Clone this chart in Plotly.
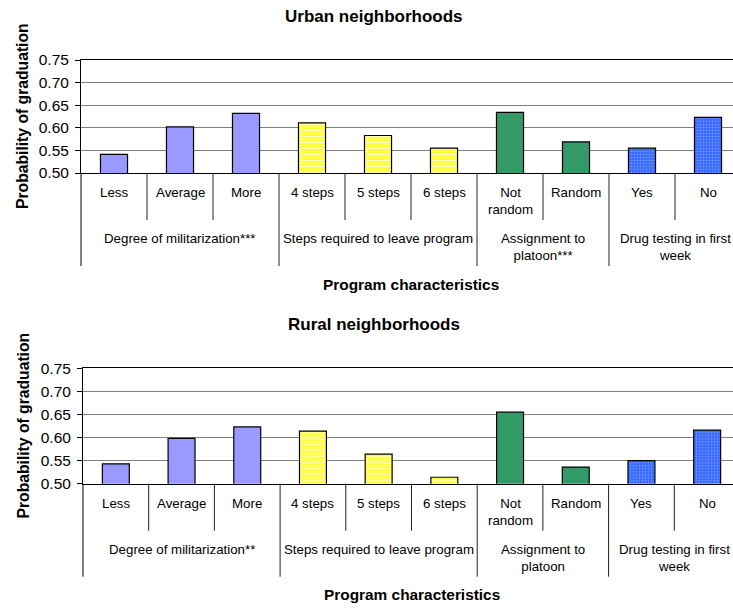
import plotly.graph_objects as go

# ---- data ----
categories = ["Less", "Average", "More", "4 steps", "5 steps", "6 steps",
              "Not<br>random", "Random", "Yes", "No"]
group_sizes = [3, 3, 2, 2]
urban_groups = ["Degree of militarization***", "Steps required to leave program",
                "Assignment to<br>platoon***", "Drug testing in first<br>week"]
rural_groups = ["Degree of militarization**", "Steps required to leave program",
                "Assignment to<br>platoon", "Drug testing in first<br>week"]
urban_values = [0.541, 0.602, 0.632, 0.611, 0.583, 0.555, 0.634, 0.569, 0.555, 0.623]
rural_values = [0.543, 0.598, 0.623, 0.614, 0.564, 0.514, 0.655, 0.536, 0.550, 0.616]
y_ticks = [0.50, 0.55, 0.60, 0.65, 0.70, 0.75]
titles = ["Urban neighborhoods", "Rural neighborhoods"]
x_title = "Program characteristics"
y_title = "Probability of graduation"

# styles per group
g_color = ["#9999FF", "#FFFF33", "#339966", "#3366FF"]
g_fg = ["#9999FF", "#FFFFB8", "#339966", "#6F93FF"]
g_shape = ["", "-", "", "."]

W, H = 733, 608
FONT = "Liberation Sans, Arial, sans-serif"

fig = go.Figure()

panels = [
    dict(values=urban_values, groups=urban_groups, title=titles[0],
         left=81, right=741, top=60, bottom=173),
    dict(values=rural_values, groups=rural_groups, title=titles[1],
         left=83, right=740, top=368.3, bottom=483.7),
]

shapes = []
annotations = []

for p_i, p in enumerate(panels):
    sfx = "" if p_i == 0 else str(p_i + 1)
    xa, ya = "x" + sfx, "y" + sfx
    # bars per group
    start = 0
    for g_i, n in enumerate(group_sizes):
        idx = list(range(start, start + n))
        fig.add_trace(go.Bar(
            x=[categories[i] for i in idx],
            y=[p["values"][i] for i in idx],
            width=0.41,
            marker=dict(color=g_color[g_i],
                        line=dict(color="black", width=1.2),
                        pattern=dict(shape=g_shape[g_i], fgcolor=g_fg[g_i],
                                     bgcolor=g_color[g_i], size=3, solidity=0.4)),
            xaxis=xa, yaxis=ya, showlegend=False, hoverinfo="skip",
        ))
        start += n

    # axes
    cat_px = (p["right"] - p["left"]) / len(categories)
    span = (W - p["left"]) / cat_px
    x_dom = [p["left"] / W, 1.0]
    y_dom = [1 - p["bottom"] / H, 1 - p["top"] / H]
    fig.layout["xaxis" + sfx] = dict(
        domain=x_dom, anchor=ya, type="category",
        categoryorder="array", categoryarray=categories,
        range=[-0.5, -0.5 + span], showticklabels=False, ticks="",
        showline=True, linecolor="black", linewidth=1, mirror=True,
        showgrid=False, zeroline=False, fixedrange=True, automargin=False,
    )
    fig.layout["yaxis" + sfx] = dict(
        domain=y_dom, anchor=xa, range=[0.5, 0.75],
        tickvals=y_ticks, tickformat=".2f",
        ticks="outside", ticklen=5, tickcolor="black", tickwidth=1,
        ticklabelstandoff=3,
        showline=True, linecolor="black", linewidth=1,
        showgrid=True, gridcolor="#808080", gridwidth=1, zeroline=False,
        tickfont=dict(family=FONT, size=15.5, color="black"),
        fixedrange=True, automargin=False,
    )

    # category separators
    boundaries = set()
    acc = 0
    for n in group_sizes:
        acc += n
        boundaries.add(acc)
    for b in range(1, len(categories) + 1):
        long_ = b in boundaries
        shapes.append(dict(
            type="line", xref=xa, yref=ya + " domain",
            x0=b - 0.5, x1=b - 0.5,
            ysizemode="pixel", yanchor=0, y0=0, y1=-(93 if long_ else 47),
            line=dict(color="#222222", width=1),
        ))
    shapes.append(dict(
        type="line", xref=xa + " domain", yref=ya + " domain",
        x0=0, x1=0, ysizemode="pixel", yanchor=0, y0=0, y1=-93,
        line=dict(color="black", width=1),
    ))

    # category labels
    for i, c in enumerate(categories):
        annotations.append(dict(
            text=c, xref=xa, yref=ya + " domain", x=i, y=0,
            yanchor="top", yshift=-10, showarrow=False,
            font=dict(family=FONT, size=13.3, color="black"),
        ))
    # group labels
    acc = 0
    for g_i, n in enumerate(group_sizes):
        annotations.append(dict(
            text=p["groups"][g_i], xref=xa, yref=ya + " domain",
            x=acc + (n - 1) / 2, y=0, yanchor="top", yshift=-56,
            showarrow=False, font=dict(family=FONT, size=13.3, color="black"),
        ))
        acc += n
    # x title
    annotations.append(dict(
        text="<b>" + x_title + "</b>", xref=xa, yref=ya + " domain",
        x=(len(categories) - 1) / 2, y=0, yanchor="middle", yshift=-111,
        showarrow=False, font=dict(family=FONT, size=15.4, color="black"),
    ))
    # y title
    annotations.append(dict(
        text="<b>" + y_title + "</b>", xref="paper", yref=ya + " domain",
        x=22.5 / W, y=0.5, xanchor="center", yanchor="middle", textangle=-90,
        showarrow=False, font=dict(family=FONT, size=15.7, color="black"),
    ))
    # chart title
    annotations.append(dict(
        text="<b>" + p["title"] + "</b>", xref="paper", yref=ya + " domain",
        x=374 / W, y=1, yanchor="middle", yshift=44,
        showarrow=False, font=dict(family=FONT, size=17, color="black"),
    ))

fig.update_layout(
    template="none",
    width=W, height=H, margin=dict(l=0, r=0, t=0, b=0, pad=0, autoexpand=False),
    paper_bgcolor="white", plot_bgcolor="white",
    barmode="overlay", shapes=shapes, annotations=annotations,
    font=dict(family=FONT, color="black"),
)

fig.write_html("out.html", config={"displayModeBar": False})
